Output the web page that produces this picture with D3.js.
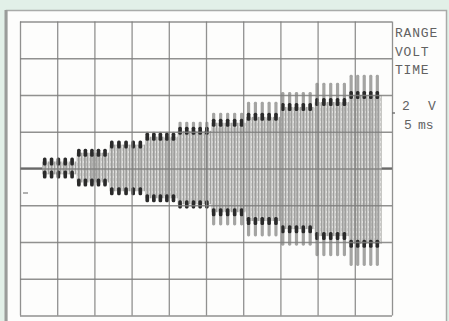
<!DOCTYPE html>
<html>
<head>
<meta charset="utf-8">
<script src="https://cdn.jsdelivr.net/npm/d3@7"></script>
<style>
  body { margin: 0; background: #e2f0e8; }
  svg { display: block; }
</style>
</head>
<body>
<div id="scope"></div>
<script>
// time base 5 ms/div, 2 V/div
const timeTicks = [0, 5, 10, 15, 20, 25, 30, 35, 40, 45, 50];
const voltTicks = [-8, -6, -4, -2, 0, 2, 4, 6, 8];

// each step of the burst (ms), last entry is the end of the burst
const stepStart = [3.0, 7.6, 12.0, 16.8, 21.2, 25.7, 30.4, 35.0, 39.6, 44.2];
const burstEnd = 48.6;
const pulsesPerStep = 5;

// levels (V)
const topLevel = [0.38, 0.86, 1.30, 1.73, 2.05, 2.49, 2.81, 3.35, 3.62, 4.0];
const bottomLevel = [-0.32, -0.76, -1.24, -1.62, -1.95, -2.38, -2.86, -3.30, -3.68, -4.1];
const spikeTop = [0.49, 0.92, 1.46, 2.0, 2.55, 3.03, 3.63, 4.17, 4.66, 5.1];
const spikeBottom = [-0.43, -0.92, -1.4, -1.8, -2.2, -3.1, -3.7, -4.2, -4.77, -5.3];

const labels = ['RANGE', 'VOLT', 'TIME'];

const width = 449;
const height = 321;

const svg = d3.select('#scope').append('svg')
  .attr('width', width)
  .attr('height', height);

svg.append('rect')
  .attr('width', width).attr('height', height)
  .attr('fill', '#e2f0e8');

// white panel
svg.append('rect')
  .attr('x', 6.5).attr('y', 10.5)
  .attr('width', 440).attr('height', 320)
  .attr('fill', '#fdfdfc')
  .attr('stroke', '#a9aba9')
  .attr('stroke-width', 1.5);
svg.append('line')
  .attr('x1', 6).attr('x2', 6).attr('y1', 10).attr('y2', height)
  .attr('stroke', '#9a9c9a').attr('stroke-width', 3);

const x = d3.scaleLinear().domain([0, 50]).range([20, 392]);
const y = d3.scaleLinear().domain([-8, 8]).range([315.5, 21.5]);

const defs = svg.append('defs');
const pat = defs.append('pattern')
  .attr('id', 'hatch')
  .attr('patternUnits', 'userSpaceOnUse')
  .attr('width', 3).attr('height', 5);
pat.append('rect').attr('width', 3).attr('height', 5).attr('fill', '#cacac8');
pat.append('rect').attr('x', 0).attr('width', 1).attr('height', 5).attr('fill', '#a0a09e');
pat.append('rect').attr('x', 2).attr('y', 1).attr('width', 1).attr('height', 2).attr('fill', '#e0e0de');

const blur = defs.append('filter').attr('id', 'soft');
blur.append('feGaussianBlur').attr('stdDeviation', 0.6);

const steps = stepStart.map((s, i) => ({
  start: s,
  end: i < stepStart.length - 1 ? stepStart[i + 1] : burstEnd,
  top: topLevel[i],
  bottom: bottomLevel[i],
  spTop: spikeTop[i],
  spBottom: spikeBottom[i]
}));

const trace = svg.append('g').attr('filter', 'url(#soft)');

// flat trace before and after the burst
trace.append('path')
  .attr('d', d3.line()([[x(0), y(0)], [x(stepStart[0]), y(0)]]))
  .attr('stroke', '#444').attr('stroke-width', 2).attr('fill', 'none');
trace.append('path')
  .attr('d', d3.line()([[x(burstEnd), y(0)], [x(50), y(0)]]))
  .attr('stroke', '#444').attr('stroke-width', 2).attr('fill', 'none');

// dense carrier between the levels
trace.selectAll('rect.fill')
  .data(steps)
  .enter().append('rect')
  .attr('class', 'fill')
  .attr('x', d => x(d.start))
  .attr('width', d => x(d.end) - x(d.start))
  .attr('y', d => y(d.top))
  .attr('height', d => y(d.bottom) - y(d.top))
  .attr('fill', 'url(#hatch)');

const pulses = [];
steps.forEach(d => {
  const w = (d.end - d.start) / pulsesPerStep;
  for (let k = 0; k < pulsesPerStep; k++) {
    pulses.push(Object.assign({ t: d.start + (k + 0.35) * w }, d));
  }
});

// each pulse shows as a slightly darker streak through the carrier
trace.selectAll('rect.streak')
  .data(pulses)
  .enter().append('rect')
  .attr('x', d => x(d.t) - 1)
  .attr('width', 2)
  .attr('y', d => y(d.top))
  .attr('height', d => y(d.bottom) - y(d.top))
  .attr('fill', '#9a9a98')
  .attr('opacity', 0.6);

// overshoot spikes
trace.selectAll('rect.spikeUp')
  .data(pulses)
  .enter().append('rect')
  .attr('x', d => x(d.t) - 1.6)
  .attr('width', 3.2)
  .attr('y', d => y(d.spTop))
  .attr('height', d => y(d.top) - y(d.spTop) + 2)
  .attr('rx', 1.4)
  .attr('fill', '#a4a4a2');
trace.selectAll('rect.spikeDown')
  .data(pulses)
  .enter().append('rect')
  .attr('x', d => x(d.t) - 1.6)
  .attr('width', 3.2)
  .attr('y', d => y(d.bottom) - 2)
  .attr('height', d => y(d.spBottom) - y(d.bottom) + 2)
  .attr('rx', 1.4)
  .attr('fill', '#a4a4a2');

// dark marks at the levels
['top', 'bottom'].forEach(key => {
  trace.selectAll('rect.mark-' + key)
    .data(pulses)
    .enter().append('rect')
    .attr('x', d => x(d.t) - 1.8)
    .attr('width', 3.6)
    .attr('y', d => y(d[key]) - 4)
    .attr('height', 8)
    .attr('rx', 1.5)
    .attr('fill', '#2a2a2a');
});

// graticule
const grid = svg.append('g');
grid.append('g')
  .attr('transform', `translate(0,${y(8)})`)
  .call(d3.axisBottom(x).tickValues(timeTicks).tickSize(y(-8) - y(8)).tickFormat(''))
  .call(g => g.select('.domain').remove());
grid.append('g')
  .attr('transform', `translate(${x(0)},0)`)
  .call(d3.axisRight(y).tickValues(voltTicks).tickSize(x(50) - x(0)).tickFormat(''))
  .call(g => g.select('.domain').remove());
grid.selectAll('line')
  .attr('stroke', '#7e7e7c')
  .attr('stroke-opacity', 0.85)
  .attr('stroke-width', 1.3);

// small markers
svg.append('line')
  .attr('x1', 23).attr('x2', 28).attr('y1', 193).attr('y2', 193)
  .attr('stroke', '#999').attr('stroke-width', 1.5);
svg.append('line')
  .attr('x1', 392).attr('x2', 395).attr('y1', 113).attr('y2', 113)
  .attr('stroke', '#777').attr('stroke-width', 1.5);

// readout
const txt = svg.append('g')
  .attr('font-family', 'Liberation Mono, DejaVu Sans Mono, monospace')
  .attr('font-size', '13px')
  .attr('fill', '#626262');
txt.selectAll('text.lab')
  .data(labels)
  .enter().append('text')
  .attr('x', 395)
  .attr('y', (d, i) => 37 + i * 18.5)
  .attr('letter-spacing', 0.8)
  .text(d => d);
txt.append('text').attr('x', 402).attr('y', 110).text('2');
txt.append('text').attr('x', 428).attr('y', 110).text('V');
txt.append('text').attr('x', 404).attr('y', 129).text('5');
txt.append('text').attr('x', 418).attr('y', 129).text('ms');
</script>
</body>
</html>
